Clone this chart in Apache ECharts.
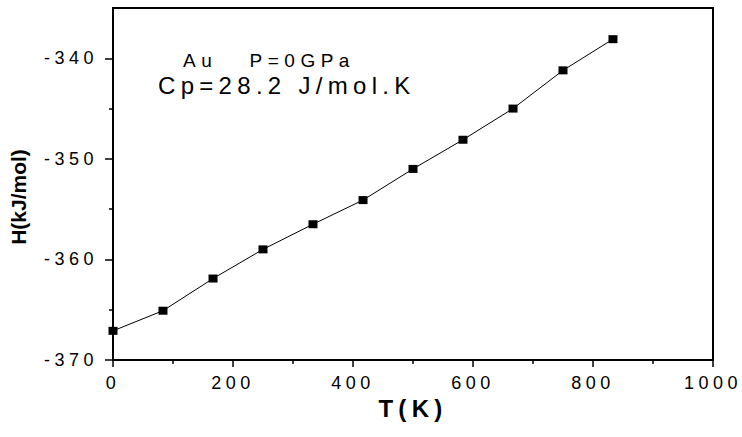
<!DOCTYPE html>
<html>
<head>
<meta charset="utf-8">
<script src="https://cdn.jsdelivr.net/npm/echarts@6/dist/echarts.min.js"></script>
<style>
html,body{margin:0;padding:0;background:#fff;}
#chart{width:742px;height:437px;}
#chart text{letter-spacing:4.5px;}
#chart text[style*="21px"]{letter-spacing:0px;}
#chart text[style*="19px"]{letter-spacing:5.5px;}
#chart text[style*="24px"]{letter-spacing:5.3px;}
</style>
</head>
<body>
<div id="chart"></div>
<script>
var temps = [0, 83.3, 166.7, 250, 333.3, 416.7, 500, 583.3, 666.7, 750, 833.3];
var enthalpy = [-367.1, -365.1, -361.9, -359.0, -356.5, -354.1, -351.0, -348.1, -345.0, -341.2, -338.1];
var yMajorTicks = [-370, -360, -350, -340];
var yMinorTicks = [-365, -355, -345];
var xTickLabels = [0, 200, 400, 600, 800, 1000];
var annotLine1 = 'Au   P=0GPa';
var annotLine2 = 'Cp=28.2 J/mol.K';

var FONT = '"Liberation Sans", Arial, sans-serif';
var chart = echarts.init(document.getElementById('chart'), null, {renderer: 'svg'});
var data = temps.map(function (t, i) { return [t, enthalpy[i]]; });

chart.setOption({
  animation: false,
  backgroundColor: '#fff',
  grid: {left: 111, right: 29, top: 8, bottom: 77, show: true, borderColor: '#000', borderWidth: 2, backgroundColor: 'transparent'},
  xAxis: {
    type: 'value', min: 0, max: 1000, interval: 200,
    name: 'T(K)', nameLocation: 'middle', nameGap: 36,
    nameTextStyle: {fontFamily: FONT, fontSize: 24, fontWeight: 'bold', color: '#000'},
    axisLine: {show: true, lineStyle: {color: '#000', width: 2}},
    axisTick: {show: true, length: 7, lineStyle: {color: '#000', width: 1.5}},
    minorTick: {show: true, splitNumber: 2, length: 4, lineStyle: {color: '#000', width: 1.5}},
    splitLine: {show: false},
    axisLabel: {fontFamily: FONT, fontSize: 18, color: '#000', margin: 14,
      customValues: xTickLabels,
      formatter: function (v) { return String(v); }}
  },
  yAxis: [{
    type: 'value', min: -370, max: -335, position: 'left',
    name: 'H(kJ/mol)', nameLocation: 'middle', nameGap: 84, nameRotate: 90,
    nameMoveOverlap: false,
    nameTextStyle: {fontFamily: FONT, fontSize: 21, fontWeight: 'bold', color: '#000', padding: [0, 26, 0, 0]},
    axisLine: {show: true, lineStyle: {color: '#000', width: 2}},
    axisTick: {show: true, length: 8, lineStyle: {color: '#000', width: 1.5}, customValues: yMajorTicks},
    splitLine: {show: false},
    axisLabel: {fontFamily: FONT, fontSize: 18, color: '#000', margin: 15, customValues: yMajorTicks,
      formatter: function (v) { return String(v); }}
  }, {
    type: 'value', min: -370, max: -335, position: 'left',
    axisLine: {show: false},
    axisTick: {show: true, length: 4, lineStyle: {color: '#000', width: 1.5}, customValues: yMinorTicks},
    splitLine: {show: false},
    axisLabel: {show: false}
  }],
  graphic: [
    {type: 'text', left: 183, top: 51, z: 10,
      style: {text: annotLine1, fontFamily: FONT, fontSize: 19, fill: '#000'}},
    {type: 'text', left: 158, top: 73, z: 10,
      style: {text: annotLine2, fontFamily: FONT, fontSize: 24, fill: '#000'}}
  ],
  series: [{
    type: 'line', data: data, yAxisIndex: 0,
    symbol: 'rect', symbolSize: [9, 8],
    itemStyle: {color: '#000'},
    lineStyle: {color: '#000', width: 1},
    clip: true
  }]
});
</script>
</body>
</html>
